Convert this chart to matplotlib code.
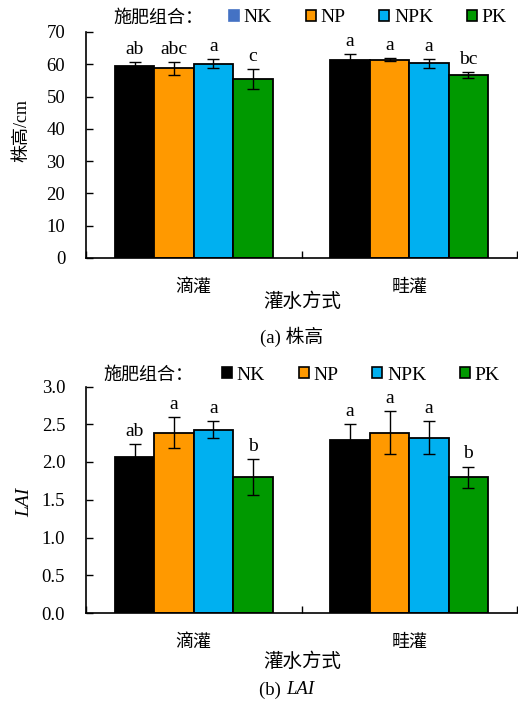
import matplotlib
matplotlib.use('Agg')
import matplotlib.pyplot as plt
from matplotlib.patches import Patch
from matplotlib.ticker import FormatStrFormatter

plt.rcParams['font.family'] = ['Liberation Serif', 'Noto Sans CJK SC']

groups = ['滴灌', '畦灌']
treat = ['NK', 'NP', 'NPK', 'PK']
colors = ['#000000', '#FF9900', '#00B0F0', '#009900']

# plant height (cm)
h_mean = {'NK': [59.4, 61.3], 'NP': [58.7, 61.4], 'NPK': [60.2, 60.3], 'PK': [55.4, 56.7]}
h_err = {'NK': [1.4, 1.9], 'NP': [2.0, 0.4], 'NPK': [1.4, 1.3], 'PK': [3.1, 0.9]}
h_lab = {'NK': ['ab', 'a'], 'NP': ['abc', 'a'], 'NPK': ['a', 'a'], 'PK': ['c', 'bc']}

# LAI
l_mean = {'NK': [2.07, 2.29], 'NP': [2.39, 2.39], 'NPK': [2.43, 2.32], 'PK': [1.80, 1.80]}
l_err = {'NK': [0.17, 0.21], 'NP': [0.21, 0.28], 'NPK': [0.11, 0.22], 'PK': [0.24, 0.14]}
l_lab = {'NK': ['ab', 'a'], 'NP': ['a', 'a'], 'NPK': ['a', 'a'], 'PK': ['b', 'b']}

W, H = 518, 711
fig = plt.figure(figsize=(W / 100, H / 100), dpi=100)
ax1 = fig.add_axes([86 / W, 1 - 258 / H, 431 / W, 226 / H])
ax2 = fig.add_axes([86 / W, 1 - 613 / H, 431 / W, 226.5 / H])

w = 0.183


def draw(ax, mean, err, lab, ymax, step, fmt):
    for i, t in enumerate(treat):
        xs = [g + (i - 1.5) * w for g in range(len(groups))]
        ax.bar(xs, mean[t], w, color=colors[i], edgecolor='black', linewidth=1.3,
               yerr=err[t], error_kw=dict(ecolor='black', elinewidth=1, capsize=4, capthick=1))
        for x, m, e, s in zip(xs, mean[t], err[t], lab[t]):
            ax.annotate(s, (x, m + e), xytext=(0, 3), textcoords='offset points',
                        ha='center', va='bottom', fontsize=14)
    ax.set_xlim(-0.5, 1.5)
    ax.set_ylim(0, ymax)
    ax.set_yticks([k * step for k in range(int(round(ymax / step)) + 1)])
    ax.yaxis.set_major_formatter(FormatStrFormatter(fmt))
    ax.set_xticks(range(len(groups)))
    ax.set_xticklabels(groups, fontsize=13)
    ax.set_xticks([-0.5, 0.5, 1.5], minor=True)
    ax.tick_params(axis='x', which='major', length=0, pad=15)
    ax.tick_params(axis='x', which='minor', direction='in', length=5, width=1)
    ax.tick_params(axis='y', direction='in', length=5, width=1, labelsize=13.5, pad=15)
    for s in ['top', 'right']:
        ax.spines[s].set_visible(False)
    for s in ['left', 'bottom']:
        ax.spines[s].set_linewidth(1.2)


draw(ax1, h_mean, h_err, h_lab, 70, 10, '%d')
draw(ax2, l_mean, l_err, l_lab, 3.0, 0.5, '%.1f')

fig.text(22 / W, 1 - 131 / H, '株高/cm', rotation=90, ha='center', va='center', fontsize=13)
fig.text(25 / W, 1 - 502 / H, 'LAI', rotation=90, ha='center', va='center',
         fontsize=14, style='italic')
fig.text(302 / W, 1 - 302 / H, '灌水方式', ha='center', va='center', fontsize=14)
fig.text(302 / W, 1 - 662 / H, '灌水方式', ha='center', va='center', fontsize=14)

fig.text(292 / W, 1 - 337 / H, '(a) 株高', ha='center', va='center', fontsize=13.5)
fig.text(286 / W, 1 - 690 / H, '(b) ', ha='right', va='center', fontsize=13.5)
fig.text(286 / W, 1 - 690 / H, 'LAI', ha='left', va='center', fontsize=13.5, style='italic')


def legend(x_text, x_leg, y, nk_color):
    fig.text(x_text / W, 1 - y / H, '施肥组合：', ha='left', va='center', fontsize=13)
    handles = []
    for i, t in enumerate(treat):
        if i == 0:
            handles.append(Patch(facecolor=nk_color, edgecolor=nk_color, linewidth=1.2, label=t))
        else:
            handles.append(Patch(facecolor=colors[i], edgecolor='black', linewidth=1.2, label=t))
    fig.legend(handles=handles, loc='center left', bbox_to_anchor=(x_leg / W, 1 - y / H), ncol=4,
               frameon=False, fontsize=14, handlelength=0.5, handleheight=0.5,
               handletextpad=0.25, columnspacing=1.75, borderaxespad=0, borderpad=0)


legend(113, 229, 18, '#4472C4')
legend(103, 222, 375, '#000000')

fig.savefig('out.png', dpi=100)
